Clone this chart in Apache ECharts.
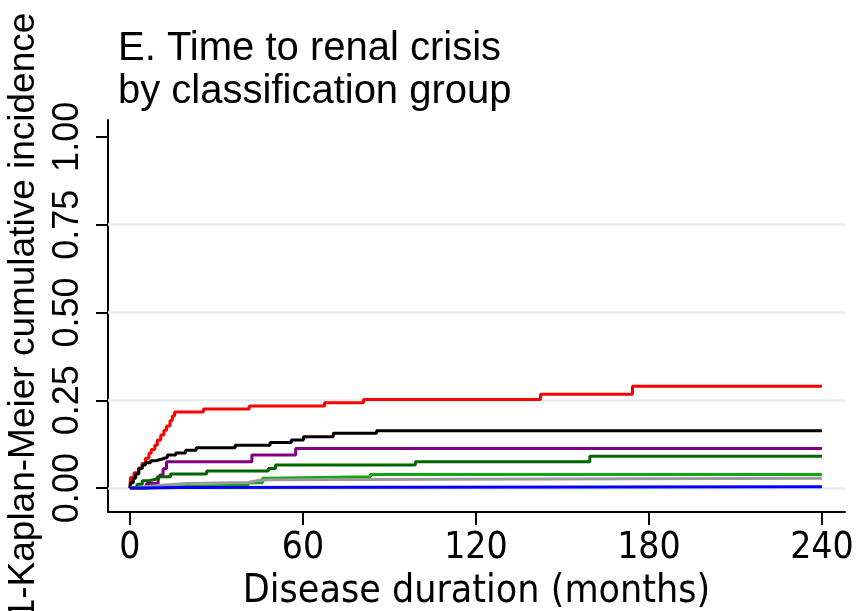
<!DOCTYPE html>
<html>
<head>
<meta charset="utf-8">
<script src="https://cdn.jsdelivr.net/npm/echarts@6/dist/echarts.min.js"></script>
<style>
  html, body { margin: 0; padding: 0; background: #fff; }
  #main { width: 857px; height: 611px; }
</style>
</head>
<body>
<div id="main"></div>
<script type="text/javascript">
    // step curves, [month, cumulative incidence]
    var redCurve = [[0,0],[0.2,0.03],[1.4,0.044],[3,0.057],[4.2,0.07],[5.4,0.085],[6.6,0.099],[7.4,0.11],[8.6,0.122],[9.5,0.137],[10.7,0.151],[11.8,0.165],[12.7,0.177],[13.9,0.192],[14.7,0.205],[15.5,0.217],[25.5,0.225],[41.4,0.234],[67.5,0.243],[81,0.252],[142.4,0.267],[174.3,0.29],[240,0.29]];
    var blackCurve = [[0,0],[0.2,0.015],[1.2,0.028],[2,0.04],[3.1,0.056],[4.3,0.066],[5.4,0.072],[7.2,0.078],[8.9,0.083],[11.2,0.088],[13,0.094],[15.9,0.1],[19.3,0.108],[23,0.115],[36.5,0.122],[48.6,0.13],[56,0.137],[60.2,0.146],[70.5,0.156],[85.5,0.163],[240,0.163]];
    var purpleCurve = [[0,0],[5.8,0.013],[9.8,0.023],[10.4,0.037],[11.5,0.055],[12.7,0.075],[42.3,0.094],[57.5,0.113],[240,0.113]];
    var dkgreenCurve = [[0,0],[2.5,0.011],[4.3,0.021],[6.6,0.026],[9.5,0.032],[14.1,0.04],[26.6,0.049],[48,0.056],[50.5,0.066],[99,0.075],[159.5,0.091],[240,0.091]];
    var greenCurve = [[0,0],[5.8,0.004],[16.2,0.009],[41,0.015],[46,0.028],[48,0.032],[83.4,0.039],[240,0.039]];
    var grayCurve = [[0,0],[2,0.004],[5,0.009],[12,0.013],[20,0.016],[41,0.021],[44,0.024],[48,0.028],[240,0.028]];
    var blueCurve = [[0,0],[5,0.002],[17,0.004],[240,0.004]];

    var xTicks = [0, 60, 120, 180, 240];
    var yTicks = [0, 0.25, 0.5, 0.75, 1];
    var gridValues = [0, 0.25, 0.5, 0.75];

    var narrowFont = 'DejaVu Sans Condensed, Liberation Sans Narrow, sans-serif';

    var myChart = echarts.init(document.getElementById('main'), null, {renderer: 'canvas'});

    function curve(name, data, color) {
        return {
            name: name,
            type: 'line',
            step: 'end',
            data: data,
            showSymbol: false,
            symbol: 'none',
            z: 3,
            lineStyle: {color: color, width: 3},
            itemStyle: {color: color}
        };
    }

    var option = {
        animation: false,
        backgroundColor: '#ffffff',
        textStyle: {fontFamily: 'Liberation Sans, Arial, sans-serif'},
        title: {
            text: 'E. Time to renal crisis\nby classification group',
            left: 113,
            top: 22,
            textStyle: {
                fontFamily: 'Liberation Sans, Arial, sans-serif',
                fontSize: 40,
                fontWeight: 'normal',
                color: '#000',
                lineHeight: 43
            }
        },
        grid: {left: 108, right: 12, top: 120, bottom: 99, containLabel: false, outerBoundsMode: 'none'},
        xAxis: {
            type: 'value',
            min: -7.6,
            max: 248,
            name: 'Disease duration (months)',
            nameLocation: 'middle',
            nameGap: 53,
            nameTextStyle: {fontFamily: narrowFont, fontSize: 39, color: '#000'},
            axisLine: {show: true, onZero: false, lineStyle: {color: '#000', width: 2}},
            axisTick: {show: true, length: 13, lineStyle: {color: '#000', width: 2}, customValues: xTicks},
            axisLabel: {
                customValues: xTicks,
                margin: 18,
                color: '#000',
                fontSize: 37,
                fontFamily: narrowFont
            },
            splitLine: {show: false}
        },
        yAxis: {
            type: 'value',
            min: -0.068,
            max: 1.048,
            name: '1-Kaplan-Meier cumulative incidence',
            nameLocation: 'middle',
            nameRotate: 90,
            nameGap: 61,
            nameTextStyle: {fontSize: 37, color: '#000'},
            axisLine: {show: true, onZero: false, lineStyle: {color: '#000', width: 2}},
            axisTick: {show: true, length: 12, lineStyle: {color: '#000', width: 2}, customValues: yTicks},
            axisLabel: {
                customValues: yTicks,
                rotate: 90,
                margin: 22,
                color: '#000',
                fontSize: 36,
                formatter: function (v) { return v.toFixed(2); }
            },
            splitLine: {show: false}
        },
        series: [
            {
                name: 'grid',
                type: 'line',
                data: [],
                z: 1,
                silent: true,
                markLine: {
                    z: 1,
                    silent: true,
                    symbol: 'none',
                    label: {show: false},
                    lineStyle: {color: '#e4ecf0', width: 2.5, type: 'solid'},
                    data: gridValues.map(function (v) { return {yAxis: v}; })
                }
            },
            curve('Group 1', redCurve, '#ff0000'),
            curve('Group 2', blackCurve, '#000000'),
            curve('Group 3', purpleCurve, '#800080'),
            curve('Group 4', dkgreenCurve, '#006400'),
            curve('Group 5', greenCurve, '#10a810'),
            curve('Group 6', grayCurve, '#999999'),
            curve('Group 7', blueCurve, '#0000ff')
        ]
    };

    myChart.setOption(option);
</script>
</body>
</html>
